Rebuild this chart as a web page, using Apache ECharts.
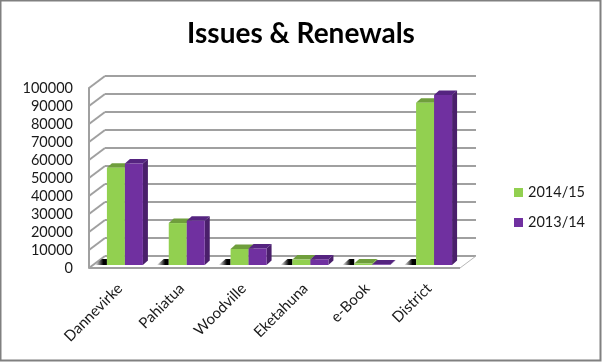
<!DOCTYPE html>
<html>
<head>
<meta charset="utf-8">
<title>Issues & Renewals</title>
<script src="https://cdn.jsdelivr.net/npm/echarts@6/dist/echarts.min.js"></script>
<style>
  html, body { margin: 0; padding: 0; background: #fff; }
  #chart { width: 602px; height: 362px; }
</style>
</head>
<body>
<div id="chart"></div>
<script>
var categories = ['Dannevirke', 'Pahiatua', 'Woodville', 'Eketahuna', 'e-Book', 'District'];
var values1415 = [54000, 23300, 8900, 3000, 800, 90200];
var values1314 = [56400, 24600, 9200, 3100, 300, 94400];
var yTicks = [0, 10000, 20000, 30000, 40000, 50000, 60000, 70000, 80000, 90000, 100000];

var wallDx = 16, wallDy = -12;   // depth of the box
var barShift = [5, -3];          // bars stand a bit inside the floor
var depthX = 5, depthY = -4.5;   // depth of a single bar
var barWidth = 18;

function poly(points, fill, z2) {
  return { type: 'polygon', z2: z2 || 0, shape: { points: points }, style: { fill: fill } };
}

function wallItem(params, api) {
  var p = api.coord([0, api.value(0)]);
  var cs = params.coordSys;
  var x0 = cs.x, x1 = cs.x + cs.width, y = p[1];
  var line = { stroke: '#a0a0a0', lineWidth: 2 };
  var kids = [
    { type: 'line', shape: { x1: x0, y1: y, x2: x0 + wallDx, y2: y + wallDy }, style: line },
    { type: 'line', shape: { x1: x0 + wallDx, y1: y + wallDy, x2: x1 + wallDx, y2: y + wallDy }, style: line }
  ];
  if (api.value(0) === 0) {
    kids.push({ type: 'line', shape: { x1: x0, y1: y, x2: x1, y2: y }, style: line });
    kids.push({ type: 'line', shape: { x1: x1, y1: y, x2: x1 + wallDx, y2: y + wallDy }, style: { stroke: '#b8b8b8', lineWidth: 1 } });
  }
  return { type: 'group', children: kids };
}

// one 3d bar, side says which half of the band it sits in
function barItem(side, front, dark, top) {
  return function (params, api) {
    var idx = api.value(0);
    var base = api.coord([idx, 0]);
    var head = api.coord([idx, api.value(1)]);
    var l = base[0] + barShift[0] + (side < 0 ? -barWidth : 0);
    var r = l + barWidth;
    var b = base[1] + barShift[1];
    var t = head[1] + barShift[1];
    var kids = [];
    if (side < 0) {
      kids.push({
        type: 'polygon',
        shape: { points: [[l - 12, b], [l, b], [l, b - 6], [l - 5, b - 6]] },
        style: {
          fill: { type: 'linear', x: 0, y: 0, x2: 1, y2: 0, colorStops: [
            { offset: 0, color: 'rgba(0,0,0,0)' }, { offset: 0.7, color: '#000' }, { offset: 1, color: '#000' }
          ] }
        }
      });
    }
    kids.push(poly([[r, b], [r + depthX, b + depthY], [r + depthX, t + depthY], [r, t]], dark));
    kids.push(poly([[l, t], [l + depthX, t + depthY], [r + depthX, t + depthY], [r, t]], top));
    kids.push({ type: 'rect', shape: { x: l, y: t, width: barWidth, height: b - t }, style: { fill: front } });
    return { type: 'group', children: kids };
  };
}

var chart = echarts.init(document.getElementById('chart'), null, { renderer: 'canvas' });
chart.setOption({
  animation: false,
  backgroundColor: '#fff',
  textStyle: { fontFamily: 'Lato' },
  title: {
    text: 'Issues & Renewals',
    left: 'center',
    top: 15,
    textStyle: { fontFamily: 'Lato', fontSize: 28, fontWeight: 'bold', color: '#000' }
  },
  legend: {
    orient: 'vertical',
    left: 509,
    top: 180,
    itemWidth: 9,
    itemHeight: 9,
    itemGap: 15,
    icon: 'rect',
    data: ['2014/15', '2013/14'],
    textStyle: { fontFamily: 'Lato', fontSize: 14.5, color: '#1a1a1a' }
  },
  grid: { left: 89, top: 88, width: 371, height: 180 },
  xAxis: {
    type: 'category',
    data: categories,
    axisLine: { show: false },
    axisTick: { show: false },
    axisLabel: { rotate: 45, interval: 0, margin: 18, fontFamily: 'Lato', fontSize: 15, color: '#1a1a1a' }
  },
  yAxis: {
    type: 'value',
    min: 0,
    max: 100000,
    interval: 10000,
    splitLine: { show: false },
    axisLine: { show: true, lineStyle: { color: '#a0a0a0', width: 2 } },
    axisTick: { show: false },
    axisLabel: {
      margin: 16,
      padding: [2, 0, 0, 0],
      fontFamily: 'Lato',
      fontSize: 14.5,
      color: '#1a1a1a',
      formatter: function (v) { return String(v); }
    }
  },
  series: [
    {
      type: 'custom',
      name: 'walls',
      silent: true,
      z: 1,
      renderItem: wallItem,
      encode: { y: 0 },
      data: yTicks.map(function (v) { return [v]; })
    },
    {
      type: 'custom',
      name: '2014/15',
      z: 2,
      itemStyle: { color: '#92d050' },
      renderItem: barItem(-1, '#92d050', '#6f9e3c', '#6f9e3c'),
      encode: { x: 0, y: 1 },
      data: values1415.map(function (v, i) { return [i, v]; })
    },
    {
      type: 'custom',
      name: '2013/14',
      z: 2,
      itemStyle: { color: '#7030a0' },
      renderItem: barItem(1, '#7030a0', '#4a1f6b', '#552480'),
      encode: { x: 0, y: 1 },
      data: values1314.map(function (v, i) { return [i, v]; })
    }
  ],
  graphic: [{
    type: 'rect',
    silent: true,
    shape: { x: 0.5, y: 0.5, width: 600, height: 360 },
    style: { fill: 'transparent', stroke: '#808080', lineWidth: 2 }
  }]
});
</script>
</body>
</html>
